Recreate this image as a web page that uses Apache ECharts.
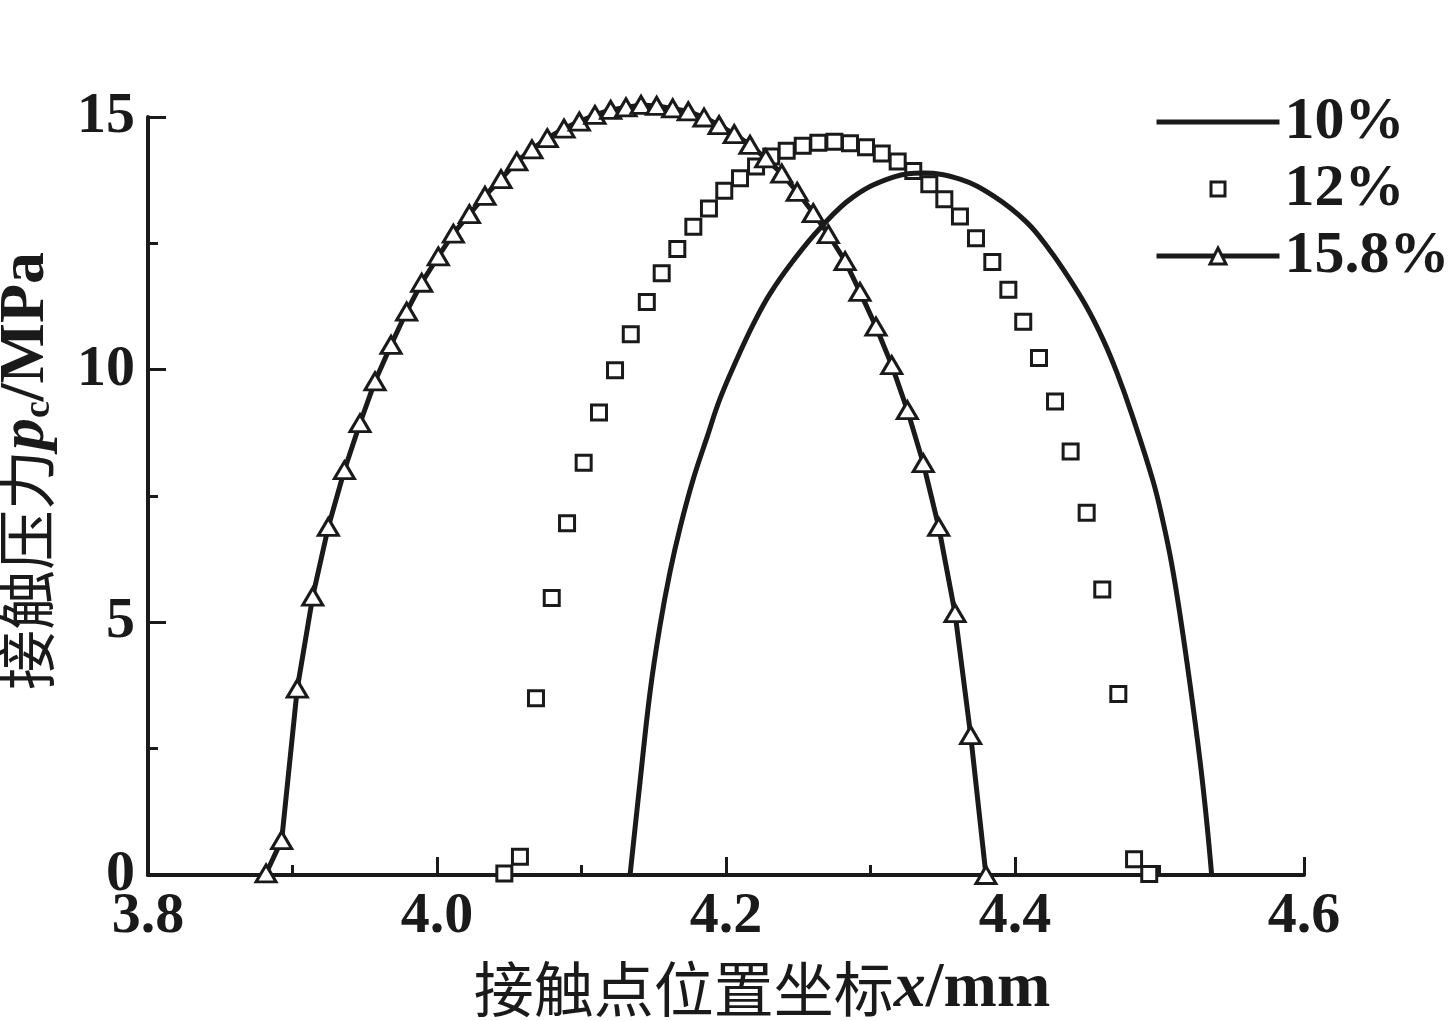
<!DOCTYPE html>
<html><head><meta charset="utf-8">
<script src="https://cdn.jsdelivr.net/npm/echarts@6/dist/echarts.min.js"></script>
<style>html,body{margin:0;padding:0;background:#fff}#c{width:1452px;height:1021px}</style>
</head><body><div id="c"></div>
<script>
// 10% (solid line)
const x10 = [4.1336,4.1405,4.1474,4.1543,4.1612,4.1682,4.1774,4.1866,4.1958,4.2074,4.2189,4.2304,4.2466,4.2651,4.2881,4.3158,4.3365,4.3619,4.3850,4.4080,4.4242,4.4358,4.4496,4.4612,4.4704,4.4808,4.4957,4.5026,4.5084,4.5142,4.5211,4.5280,4.5327,4.5361];
const y10 = [0,1.84,3.61,4.93,5.99,6.87,7.84,8.64,9.42,10.20,10.90,11.50,12.16,12.80,13.42,13.81,13.89,13.77,13.44,12.92,12.36,11.88,11.24,10.58,9.95,9.12,7.78,6.97,6.16,5.15,3.78,2.27,1.05,0];
// 12% (squares)
const x12 = [4.0466,4.0574,4.0685,4.0794,4.0900,4.1015,4.1121,4.1232,4.1341,4.1452,4.1555,4.1663,4.1774,4.1882,4.1988,4.2097,4.2208,4.2313,4.2420,4.2531,4.2639,4.2750,4.2858,4.2969,4.3078,4.3188,4.3296,4.3407,4.3511,4.3619,4.3730,4.3843,4.3954,4.4057,4.4166,4.4277,4.4385,4.4496,4.4604,4.4715,4.4824,4.4929];
const y12 = [0.03,0.36,3.50,5.48,6.96,8.16,9.15,9.99,10.70,11.34,11.91,12.39,12.83,13.19,13.54,13.79,14.02,14.22,14.33,14.43,14.49,14.51,14.48,14.40,14.28,14.12,13.93,13.67,13.37,13.03,12.60,12.13,11.58,10.95,10.23,9.37,8.38,7.17,5.65,3.58,0.31,0.02];
// 15.8% (line + triangles)
const x158 = [3.8817,3.8925,3.9033,3.9140,3.9248,3.9359,3.9467,3.9571,3.9682,3.9790,3.9894,4.0009,4.0113,4.0224,4.0332,4.0443,4.0552,4.0657,4.0763,4.0879,4.0985,4.1093,4.1202,4.1308,4.1412,4.1520,4.1631,4.1739,4.1848,4.1952,4.2057,4.2166,4.2275,4.2386,4.2493,4.2604,4.2708,4.2824,4.2927,4.3038,4.3147,4.3255,4.3365,4.3472,4.3585,4.3693,4.3799];
const y158 = [0.03,0.69,3.69,5.51,6.89,8.01,8.94,9.77,10.49,11.15,11.72,12.24,12.69,13.08,13.44,13.77,14.12,14.36,14.58,14.77,14.91,15.04,15.14,15.19,15.24,15.22,15.17,15.11,14.99,14.84,14.66,14.45,14.18,13.88,13.52,13.10,12.68,12.15,11.54,10.85,10.09,9.20,8.15,6.89,5.18,2.77,0];
const seriesNames = ['10%','12%','15.8%'];

const zip = (a,b)=>a.map((v,i)=>[v,b[i]]);
const serif = "'Liberation Serif','Times New Roman',serif";
const cjk = "'Noto Sans CJK SC'";
const ink = '#1a1a1a';
const rich = {
  cn:{fontFamily:cjk,fontSize:60,color:ink},
  it:{fontFamily:serif,fontStyle:'italic',fontWeight:'bold',fontSize:64,color:ink},
  b:{fontFamily:serif,fontWeight:'bold',fontSize:64,color:ink},
  sub:{fontFamily:serif,fontWeight:'bold',fontSize:38,color:ink,verticalAlign:'bottom'}
};
const axisCommon = {
  axisLine:{lineStyle:{color:ink,width:4}},
  axisTick:{inside:true,length:18,lineStyle:{width:3,color:ink}},
  minorTick:{show:true,splitNumber:2,length:10,lineStyle:{width:3,color:ink}},
  splitLine:{show:false},
  minorSplitLine:{show:false}
};
const chart = echarts.init(document.getElementById('c'));
chart.setOption({
  animation:false,
  backgroundColor:'#fff',
  grid:{left:148,right:148,top:117,bottom:146,containLabel:false,outerBoundsMode:'none'},
  legend:{
    orient:'vertical', left:1149, top:87, itemWidth:123, itemHeight:20, itemGap:7,
    textStyle:{fontFamily:serif,fontWeight:'bold',fontSize:60,color:ink,lineHeight:56},
    lineStyle:{width:5},
    itemStyle:{borderWidth:3},
    data:[
      {name:seriesNames[0],icon:'path://M0,0H123V5H0Z',itemStyle:{borderWidth:0}},
      {name:seriesNames[1],icon:'path://M0,0M20,20M3,3H17V17H3Z'},
      {name:seriesNames[2]}
    ]
  },
  xAxis:Object.assign({
    type:'value',min:3.8,max:4.6,interval:0.2,
    axisLabel:{margin:13,fontFamily:serif,fontWeight:'bold',fontSize:58,color:ink,formatter:v=>v.toFixed(1)},
    name:'{cn|接触点位置坐标}{it|x}{b|/mm}',nameLocation:'middle',nameGap:82,
    nameTextStyle:{rich:rich,padding:[0,0,0,72]}
  },axisCommon),
  yAxis:Object.assign({
    type:'value',min:0,max:15,interval:5,
    axisLabel:{margin:13,fontFamily:serif,fontWeight:'bold',fontSize:58,color:ink},
    name:'{cn|接触压力}{it|p}{sub|c}{b|/MPa}',nameLocation:'middle',nameGap:90,nameRotate:90,
    nameTextStyle:{rich:rich,padding:[0,0,0,50]}
  },axisCommon),
  series:[
    {name:seriesNames[0],type:'line',data:zip(x10,y10),symbol:'none',smooth:0.4,clip:false,
     lineStyle:{color:ink,width:5},itemStyle:{color:ink}},
    {name:seriesNames[1],type:'scatter',data:zip(x12,y12),symbol:'rect',symbolSize:15,clip:false,
     itemStyle:{color:'#fff',borderColor:ink,borderWidth:3,opacity:1}},
    {name:seriesNames[2],type:'line',data:zip(x158,y158),symbol:'triangle',symbolSize:[20,17],showAllSymbol:true,clip:false,
     lineStyle:{color:ink,width:5},itemStyle:{color:'#fff',borderColor:ink,borderWidth:3}}
  ]
});
</script></body></html>
